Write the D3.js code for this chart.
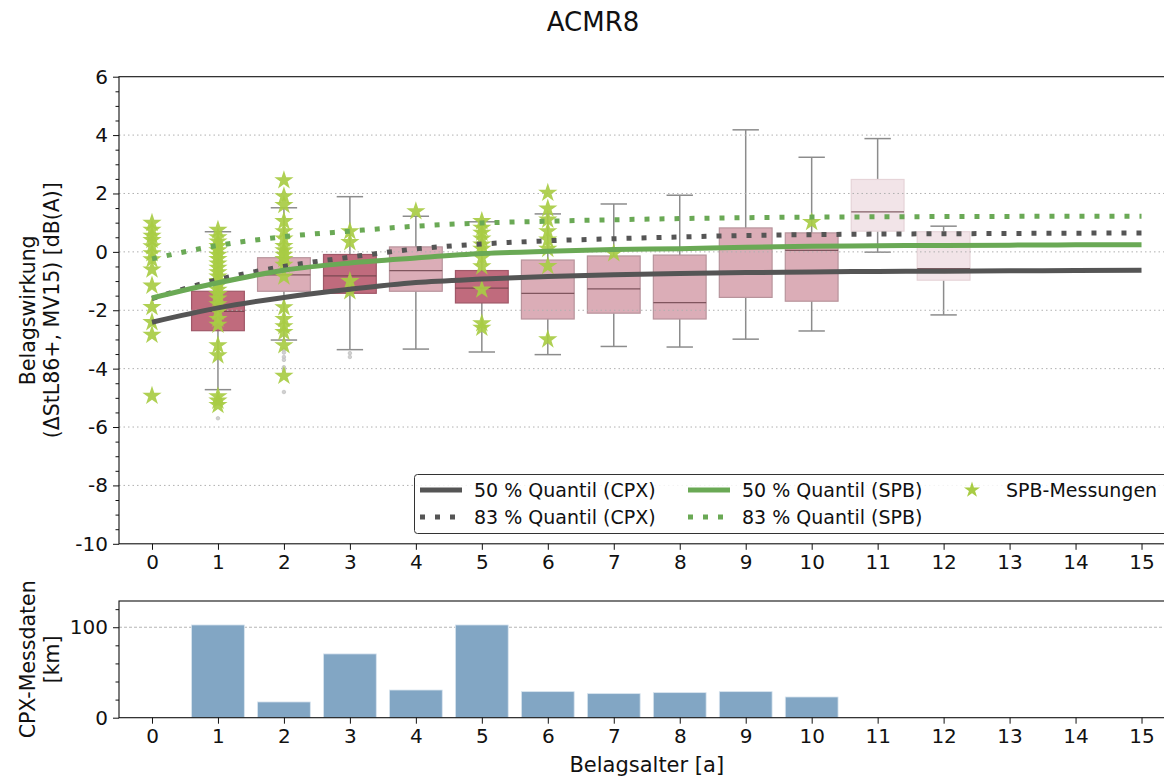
<!DOCTYPE html>
<html>
<head>
<meta charset="utf-8">
<script src="https://cdn.jsdelivr.net/npm/d3@7"></script>
<style>
  body { margin: 0; background: #fff; }
  svg { display: block; font-family: "DejaVu Sans", sans-serif; }
</style>
</head>
<body>
<svg id="chart" width="1164" height="778"></svg>
<script>
// ---- data ----
const ages = d3.range(0, 16);
const boxAges = [1, 2, 3, 4, 5, 6, 7, 8, 9, 10, 11, 12];
const boxQ1 =     [-2.70, -1.35, -1.42, -1.35, -1.75, -2.30, -2.10, -2.30, -1.56, -1.69, 0.71, -0.97];
const boxMedian = [-2.04, -0.79, -0.82, -0.64, -1.24, -1.42, -1.27, -1.74, 0.11, 0.05, 1.37, -0.57];
const boxQ3 =     [-1.35, -0.20, -0.09, 0.17, -0.64, -0.28, -0.14, -0.11, 0.82, 0.65, 2.48, 0.69];
const whiskLow =  [-4.72, -3.02, -3.35, -3.33, -3.43, -3.52, -3.24, -3.26, -2.99, -2.71, -0.01, -2.16];
const whiskHigh = [0.69, 1.51, 1.89, 1.22, 1.03, 1.30, 1.64, 1.94, 4.18, 3.24, 3.88, 0.88];
const boxShade =  ["dark", "mid", "dark", "mid", "dark", "mid", "mid", "mid", "mid", "mid", "light", "light"];
const flierAges =   [1, 1, 1, 2, 2, 2, 2, 2, 2, 2, 3, 3];
const flierValues = [-5.1, -5.2, -5.7, -3.35, -3.45, -3.6, -3.7, -3.95, -4.05, -4.8, -3.47, -3.6];

const q50CPX = [-2.41, -1.92, -1.56, -1.28, -1.05, -0.93, -0.84, -0.78, -0.74, -0.71, -0.69, -0.67, -0.66, -0.65, -0.64, -0.63];
const q83CPX = [-1.60, -0.95, -0.50, -0.18, 0.10, 0.27, 0.38, 0.45, 0.51, 0.56, 0.59, 0.61, 0.62, 0.63, 0.64, 0.65];
const q50SPB = [-1.58, -1.06, -0.63, -0.38, -0.21, -0.06, 0.02, 0.08, 0.11, 0.16, 0.19, 0.21, 0.22, 0.23, 0.24, 0.24];
const q83SPB = [-0.24, 0.22, 0.52, 0.71, 0.88, 0.99, 1.05, 1.10, 1.14, 1.17, 1.19, 1.20, 1.21, 1.215, 1.22, 1.22];

const spbAges = [
  0,0,0,0,0,0,0,0,0,0,0,0,0,
  1,1,1,1,1,1,1,1,1,1,1,1,1,1,1,1,1,1,1,1,1,1,1,1,1,
  2,2,2,2,2,2,2,2,2,2,2,2,2,2,2,2,2,2,
  3,3,3,3,
  4,
  5,5,5,5,5,5,5,5,5,5,5,
  6,6,6,6,6,6,6,6,
  7,
  10
];
const spbValues = [
  0.99, 0.75, 0.55, 0.40, 0.19, -0.05, -0.26, -0.61, -1.16, -1.89, -2.41, -2.84, -4.93,
  0.75, 0.50, 0.35, 0.20, 0.05, -0.10, -0.25, -0.40, -0.55, -0.70, -0.85, -1.00, -1.15, -1.30, -1.45, -1.60, -1.80, -2.05, -2.30, -2.50, -3.20, -3.55, -4.95, -5.10, -5.25,
  2.45, 1.90, 1.60, 1.05, 0.70, 0.45, 0.20, 0.05, -0.10, -0.25, -0.45, -0.85, -1.90, -2.30, -2.55, -2.75, -3.20, -4.25,
  0.70, 0.33, -1.00, -1.35,
  1.39,
  1.05, 0.82, 0.65, 0.45, 0.25, 0.10, -0.20, -0.50, -1.29, -2.45, -2.60,
  2.02, 1.48, 1.10, 0.70, 0.42, 0.10, -0.49, -3.00,
  -0.05,
  1.02
];

const cpxKm = [0, 102.5, 17.4, 70.5, 30.6, 102.5, 28.8, 26.6, 27.7, 28.8, 22.9, 0, 0, 0, 0, 0];

const yTicksTop = d3.range(-10, 7, 2);
const yTicksBottom = [0, 100];

// ---- layout ----
const svg = d3.select("#chart");
const left = 119, right = 1174.5;
const topY0 = 76.7, topY1 = 543.8;
const botY0 = 601, botY1 = 717.7;

const x = d3.scaleLinear().domain([-0.5, 15.5]).range([left, right]);
const y = d3.scaleLinear().domain([-10, 6]).range([topY1, topY0]);
const yb = d3.scaleLinear().domain([0, 129]).range([botY1, botY0]);
const unit = x(1) - x(0);

const fillFor = { dark: "#c06b7d", mid: "#dbadb7", light: "#f2e4e8" };
const edgeFor = { dark: "#a05868", mid: "#b8949c", light: "#e6d4d8" };
const cGrey = "#555555", cGreen = "#6aa955", cStar = "#a8cc44";

// title
svg.append("text").attr("x", 593).attr("y", 31).attr("text-anchor", "middle")
  .attr("font-size", 26).attr("fill", "#111").text("ACMR8");

// ---- top panel ----
const gTop = svg.append("g");

// boxes
const boxes = gTop.append("g");
boxAges.forEach((a, i) => {
  const cx = x(a), w = 0.8 * unit, cw = 0.4 * unit;
  const g = boxes.append("g");
  g.append("line").attr("x1", cx).attr("x2", cx).attr("y1", y(boxQ3[i])).attr("y2", y(whiskHigh[i]))
    .attr("stroke", "#8c8c8c").attr("stroke-width", 1.5);
  g.append("line").attr("x1", cx).attr("x2", cx).attr("y1", y(boxQ1[i])).attr("y2", y(whiskLow[i]))
    .attr("stroke", "#8c8c8c").attr("stroke-width", 1.5);
  [whiskHigh[i], whiskLow[i]].forEach(v => {
    g.append("line").attr("x1", cx - cw / 2).attr("x2", cx + cw / 2).attr("y1", y(v)).attr("y2", y(v))
      .attr("stroke", "#8c8c8c").attr("stroke-width", 1.5);
  });
  g.append("rect").attr("x", cx - w / 2).attr("width", w)
    .attr("y", y(boxQ3[i])).attr("height", y(boxQ1[i]) - y(boxQ3[i]))
    .attr("fill", fillFor[boxShade[i]]).attr("stroke", edgeFor[boxShade[i]]).attr("stroke-width", 1.2);
  g.append("line").attr("x1", cx - w / 2).attr("x2", cx + w / 2)
    .attr("y1", y(boxMedian[i])).attr("y2", y(boxMedian[i]))
    .attr("stroke", "#6a4048").attr("stroke-width", 1.2).attr("opacity", 0.8);
});

// fliers
gTop.append("g").selectAll("circle").data(flierValues).join("circle")
  .attr("cx", (d, i) => x(flierAges[i])).attr("cy", d => y(d)).attr("r", 1.8)
  .attr("fill", "#d0d0d0").attr("stroke", "#b8b8b8").attr("stroke-width", 0.6);

// grid (dotted)
gTop.append("g").selectAll("line").data(yTicksTop.filter(v => v > -10 && v < 6)).join("line")
  .attr("x1", left).attr("x2", right).attr("y1", d => y(d)).attr("y2", d => y(d))
  .attr("stroke", "#b0b0b0").attr("stroke-width", 1).attr("stroke-dasharray", "1.5,3");

// SPB measurements (stars)
const star = d3.symbol().type(d3.symbolStar).size(115);
gTop.append("g").selectAll("path").data(spbValues).join("path")
  .attr("d", star)
  .attr("transform", (d, i) => `translate(${x(spbAges[i])},${y(d)})`)
  .attr("fill", cStar).attr("opacity", 0.92);

// quantile curves
const line = d3.line().x((d, i) => x(ages[i])).y(d => y(d)).curve(d3.curveMonotoneX);
const curves = [
  { v: q83CPX, c: cGrey, dash: "5,10" },
  { v: q83SPB, c: cGreen, dash: "5,10" },
  { v: q50SPB, c: cGreen, dash: null },
  { v: q50CPX, c: cGrey, dash: null }
];
curves.forEach(s => {
  gTop.append("path").attr("d", line(s.v)).attr("fill", "none")
    .attr("stroke", s.c).attr("stroke-width", 5)
    .attr("stroke-dasharray", s.dash);
});

// frame
gTop.append("rect").attr("x", left).attr("y", topY0).attr("width", right - left).attr("height", topY1 - topY0)
  .attr("fill", "none").attr("stroke", "#111").attr("stroke-width", 1.1);

// axes
gTop.append("g").attr("transform", `translate(0,${topY1})`)
  .call(d3.axisBottom(x).tickValues(ages).tickFormat(d3.format("d")).tickSize(6).tickPadding(5));
gTop.append("g").attr("transform", `translate(${left},0)`)
  .call(d3.axisLeft(y).tickValues(yTicksTop).tickFormat(d => d < 0 ? "-" + Math.abs(d) : d).tickSize(6).tickPadding(5));
gTop.append("g").attr("transform", `translate(${left},0)`)
  .call(d3.axisLeft(y).tickValues(d3.range(-10, 6.01, 0.5).filter(v => v % 2 !== 0)).tickFormat("").tickSize(3.5));

// y label
const ylab = svg.append("text").attr("transform", `translate(0,${(topY0 + topY1) / 2}) rotate(-90)`)
  .attr("text-anchor", "middle").attr("font-size", 20.5).attr("fill", "#111");
ylab.append("tspan").attr("x", 0).attr("y", 35).text("Belagswirkung");
ylab.append("tspan").attr("x", 0).attr("y", 59).text("(ΔStL86+, MV15) [dB(A)]");

// legend
const lg = svg.append("g");
lg.append("rect").attr("x", 414.5).attr("y", 474.5).attr("width", 780).attr("height", 59).attr("rx", 3)
  .attr("fill", "#fff").attr("fill-opacity", 0.85).attr("stroke", "#333").attr("stroke-width", 1);
const legItems = [
  { lx: 420, ty: 490, c: cGrey, dash: null, t: "50 % Quantil (CPX)" },
  { lx: 420, ty: 517, c: cGrey, dash: "5,10", t: "83 % Quantil (CPX)" },
  { lx: 688, ty: 490, c: cGreen, dash: null, t: "50 % Quantil (SPB)" },
  { lx: 688, ty: 517, c: cGreen, dash: "5,10", t: "83 % Quantil (SPB)" }
];
legItems.forEach(it => {
  lg.append("line").attr("x1", it.lx).attr("x2", it.lx + 42).attr("y1", it.ty).attr("y2", it.ty)
    .attr("stroke", it.c).attr("stroke-width", 5).attr("stroke-dasharray", it.dash);
  lg.append("text").attr("x", it.lx + 54).attr("y", it.ty).attr("dy", "0.35em")
    .attr("font-size", 19).attr("fill", "#111").text(it.t);
});
lg.append("path").attr("d", d3.symbol().type(d3.symbolStar).size(80))
  .attr("transform", "translate(972,490)").attr("fill", cStar);
lg.append("text").attr("x", 1006).attr("y", 490).attr("dy", "0.35em")
  .attr("font-size", 19).attr("fill", "#111").text("SPB-Messungen");

// ---- bottom panel ----
const gBot = svg.append("g");
gBot.append("g").selectAll("line").data([100]).join("line")
  .attr("x1", left).attr("x2", right).attr("y1", d => yb(d)).attr("y2", d => yb(d))
  .attr("stroke", "#b5b5b5").attr("stroke-width", 1).attr("stroke-dasharray", "3,2");
gBot.append("g").selectAll("rect").data(cpxKm).join("rect")
  .attr("x", (d, i) => x(ages[i]) - 0.4 * unit).attr("width", 0.8 * unit)
  .attr("y", d => yb(d)).attr("height", d => yb(0) - yb(d))
  .attr("fill", "#82a6c4").attr("stroke", "#d8e4ee").attr("stroke-width", 0.8);
gBot.append("rect").attr("x", left).attr("y", botY0).attr("width", right - left).attr("height", botY1 - botY0)
  .attr("fill", "none").attr("stroke", "#111").attr("stroke-width", 1.1);
gBot.append("g").attr("transform", `translate(0,${botY1})`)
  .call(d3.axisBottom(x).tickValues(ages).tickFormat(d3.format("d")).tickSize(6).tickPadding(5));
gBot.append("g").attr("transform", `translate(${left},0)`)
  .call(d3.axisLeft(yb).tickValues(yTicksBottom).tickSize(6).tickPadding(5));
gBot.append("g").attr("transform", `translate(${left},0)`)
  .call(d3.axisLeft(yb).tickValues([20, 40, 60, 80, 120]).tickFormat("").tickSize(3.5));

const blab = svg.append("text").attr("transform", `translate(0,${(botY0 + botY1) / 2}) rotate(-90)`)
  .attr("text-anchor", "middle").attr("font-size", 20.5).attr("fill", "#111");
blab.append("tspan").attr("x", 0).attr("y", 35).text("CPX-Messdaten");
blab.append("tspan").attr("x", 0).attr("y", 59).text("[km]");

svg.append("text").attr("x", (left + right) / 2).attr("y", 772).attr("text-anchor", "middle")
  .attr("font-size", 21).attr("fill", "#111").text("Belagsalter [a]");

// axis styling
svg.selectAll(".domain").remove();
svg.selectAll(".tick line").attr("stroke", "#111").attr("stroke-width", 1);
svg.selectAll(".tick text").attr("font-size", 20).attr("fill", "#111")
  .attr("font-family", "DejaVu Sans, sans-serif");
</script>
</body>
</html>
